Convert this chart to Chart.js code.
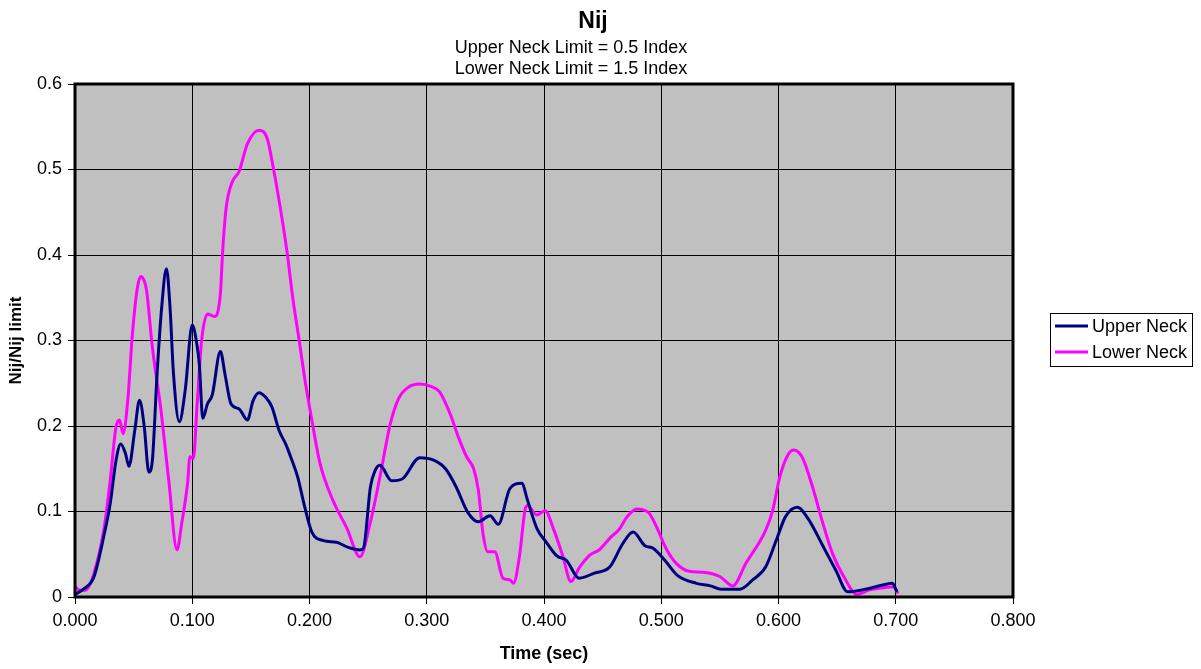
<!DOCTYPE html>
<html lang="en">
<head>
    <meta charset="UTF-8">
    <title>Nij</title>
    <script src="https://cdn.jsdelivr.net/npm/chart.js"></script>
    <style>
        html, body { margin: 0; padding: 0; background: #fff; }
        #wrap { width: 1201px; height: 669px; }
    </style>
</head>
<body>
    <div id="wrap"><canvas id="nijChart" width="1201" height="669"></canvas></div>

    <script>
        const chartTitle = 'Nij';
        const subTitles = ['Upper Neck Limit = 0.5 Index', 'Lower Neck Limit = 1.5 Index'];
        const seriesNames = ['Upper Neck', 'Lower Neck'];

        const upperTime = [0.000, 0.008, 0.016, 0.025, 0.030, 0.035, 0.039, 0.043, 0.046, 0.051, 0.055, 0.059, 0.063, 0.066,
            0.070, 0.074, 0.078, 0.081, 0.084, 0.089, 0.094, 0.100, 0.104, 0.106, 0.109, 0.113, 0.117, 0.124, 0.128, 0.133,
            0.140, 0.147, 0.152, 0.157, 0.163, 0.168, 0.174, 0.180, 0.185, 0.190, 0.196, 0.202, 0.212, 0.223, 0.233, 0.243,
            0.246, 0.252, 0.256, 0.260, 0.270, 0.279, 0.294, 0.306, 0.316, 0.325, 0.335, 0.344, 0.354, 0.361, 0.371, 0.381,
            0.386, 0.394, 0.402, 0.411, 0.419, 0.430, 0.443, 0.456, 0.467, 0.476, 0.486, 0.493, 0.503, 0.514, 0.530, 0.542,
            0.551, 0.567, 0.578, 0.589, 0.598, 0.606, 0.616, 0.626, 0.637, 0.649, 0.659, 0.674, 0.689, 0.697, 0.701];
        const upperNij = [0.003, 0.010, 0.023, 0.074, 0.109, 0.160, 0.179, 0.168, 0.153, 0.195, 0.230, 0.200, 0.146, 0.160,
            0.261, 0.340, 0.384, 0.340, 0.261, 0.205, 0.242, 0.318, 0.295, 0.273, 0.209, 0.226, 0.236, 0.287, 0.260, 0.226,
            0.220, 0.207, 0.230, 0.239, 0.233, 0.222, 0.195, 0.178, 0.160, 0.140, 0.105, 0.076, 0.066, 0.064, 0.058, 0.055,
            0.057, 0.129, 0.148, 0.154, 0.136, 0.138, 0.163, 0.160, 0.150, 0.129, 0.099, 0.088, 0.095, 0.085, 0.127, 0.133,
            0.113, 0.080, 0.064, 0.048, 0.043, 0.022, 0.028, 0.035, 0.062, 0.076, 0.060, 0.057, 0.043, 0.025, 0.016, 0.013,
            0.009, 0.009, 0.020, 0.035, 0.066, 0.094, 0.105, 0.090, 0.062, 0.031, 0.006, 0.009, 0.014, 0.016, 0.006];

        const lowerTime = [0.000, 0.004, 0.009, 0.016, 0.025, 0.030, 0.035, 0.038, 0.041, 0.045, 0.049, 0.053, 0.056, 0.059,
            0.061, 0.066, 0.073, 0.080, 0.087, 0.091, 0.096, 0.098, 0.101, 0.104, 0.108, 0.113, 0.119, 0.124, 0.126, 0.129,
            0.134, 0.140, 0.147, 0.157, 0.164, 0.169, 0.175, 0.181, 0.186, 0.191, 0.196, 0.202, 0.209, 0.220, 0.232, 0.243,
            0.252, 0.260, 0.269, 0.276, 0.284, 0.294, 0.304, 0.311, 0.320, 0.327, 0.334, 0.340, 0.344, 0.348, 0.352, 0.358,
            0.365, 0.371, 0.374, 0.379, 0.384, 0.386, 0.394, 0.401, 0.408, 0.416, 0.423, 0.430, 0.439, 0.447, 0.457, 0.464,
            0.471, 0.479, 0.489, 0.496, 0.504, 0.513, 0.524, 0.535, 0.550, 0.561, 0.572, 0.589, 0.595, 0.601, 0.608, 0.613,
            0.620, 0.629, 0.637, 0.646, 0.656, 0.667, 0.677, 0.691, 0.698, 0.702];
        const lowerNij = [0.012, 0.008, 0.008, 0.027, 0.082, 0.136, 0.199, 0.207, 0.191, 0.230, 0.308, 0.360, 0.375, 0.370,
            0.359, 0.292, 0.222, 0.136, 0.055, 0.086, 0.133, 0.164, 0.162, 0.222, 0.300, 0.331, 0.328, 0.355, 0.406, 0.456,
            0.485, 0.498, 0.530, 0.546, 0.536, 0.503, 0.456, 0.402, 0.347, 0.302, 0.255, 0.207, 0.156, 0.113, 0.080, 0.047,
            0.088, 0.140, 0.203, 0.232, 0.245, 0.249, 0.246, 0.240, 0.214, 0.187, 0.164, 0.150, 0.125, 0.074, 0.053, 0.053,
            0.022, 0.020, 0.016, 0.047, 0.103, 0.107, 0.096, 0.101, 0.080, 0.048, 0.018, 0.034, 0.049, 0.055, 0.070, 0.079,
            0.094, 0.103, 0.099, 0.082, 0.057, 0.039, 0.030, 0.029, 0.024, 0.013, 0.039, 0.078, 0.101, 0.140, 0.166, 0.172,
            0.164, 0.129, 0.090, 0.051, 0.023, 0.003, 0.008, 0.011, 0.012, 0.004];

        const toPoints = (xs, ys) => xs.map((x, i) => ({ x: x, y: ys[i] }));
        const FONT = '"Liberation Sans", Arial, sans-serif';

        // gray plot area, box round it, titles and the boxed legend
        const excelLook = {
            id: 'excelLook',
            beforeDraw(chart) {
                const { ctx, chartArea: a } = chart;
                ctx.save();
                ctx.fillStyle = '#c0c0c0';
                ctx.fillRect(a.left, a.top, a.right - a.left, a.bottom - a.top);
                ctx.restore();
            },
            afterDraw(chart) {
                const { ctx, chartArea: a } = chart;
                ctx.save();
                ctx.strokeStyle = '#000';
                ctx.lineWidth = 3;
                ctx.strokeRect(a.left, a.top, a.right - a.left, a.bottom - a.top);

                ctx.fillStyle = '#000';
                ctx.textAlign = 'center';
                ctx.textBaseline = 'alphabetic';
                ctx.font = 'bold 23px ' + FONT;
                ctx.fillText(chartTitle, 593, 28);
                ctx.font = '18px ' + FONT;
                ctx.fillText(subTitles[0], 571, 53);
                ctx.fillText(subTitles[1], 571, 74);

                // legend
                ctx.lineWidth = 1;
                ctx.strokeRect(1050.5, 313.5, 142, 53);
                ctx.textAlign = 'left';
                ctx.textBaseline = 'middle';
                chart.data.datasets.forEach((ds, i) => {
                    const y = 326 + i * 26;
                    ctx.strokeStyle = ds.borderColor;
                    ctx.lineWidth = 3;
                    ctx.beginPath();
                    ctx.moveTo(1055, y);
                    ctx.lineTo(1088, y);
                    ctx.stroke();
                    ctx.fillText(ds.label, 1092, y + 1);
                });
                ctx.restore();
            }
        };

        const config = {
            type: 'line',
            data: {
                datasets: [{
                    label: seriesNames[0],
                    data: toPoints(upperTime, upperNij),
                    borderColor: '#000080',
                    borderWidth: 3,
                    pointRadius: 0,
                    cubicInterpolationMode: 'monotone',
                    fill: false
                }, {
                    label: seriesNames[1],
                    data: toPoints(lowerTime, lowerNij),
                    borderColor: '#ff00ff',
                    borderWidth: 3,
                    pointRadius: 0,
                    cubicInterpolationMode: 'monotone',
                    fill: false
                }]
            },
            options: {
                responsive: false,
                animation: false,
                layout: { padding: { top: 84, right: 188, left: 0, bottom: 0 } },
                plugins: {
                    legend: { display: false },
                    title: { display: false },
                    tooltip: { enabled: false }
                },
                scales: {
                    x: {
                        type: 'linear',
                        min: 0,
                        max: 0.8,
                        afterFit: s => { s.height = 72; },
                        ticks: {
                            stepSize: 0.1,
                            color: '#000',
                            padding: 6,
                            maxRotation: 0,
                            font: { family: FONT, size: 18 },
                            callback: v => v.toFixed(3)
                        },
                        grid: { color: '#000', lineWidth: 1, tickLength: 7 },
                        border: { display: false },
                        title: {
                            display: true,
                            text: 'Time (sec)',
                            color: '#000',
                            font: { family: FONT, size: 18, weight: 'bold' },
                            padding: { top: 0, bottom: 4 }
                        }
                    },
                    y: {
                        min: 0,
                        max: 0.6,
                        afterFit: s => { s.width = 75; },
                        ticks: {
                            stepSize: 0.1,
                            color: '#000',
                            padding: 6,
                            font: { family: FONT, size: 18 },
                            callback: v => v === 0 ? '0' : v.toFixed(1)
                        },
                        grid: { color: '#000', lineWidth: 1, tickLength: 7 },
                        border: { display: false },
                        title: {
                            display: true,
                            text: 'Nij/Nij limit',
                            color: '#000',
                            font: { family: FONT, size: 17, weight: 'bold' },
                            padding: { top: 6, bottom: 0 }
                        }
                    }
                }
            },
            plugins: [excelLook]
        };

        const ctx = document.getElementById('nijChart').getContext('2d');
        new Chart(ctx, config);
    </script>
</body>
</html>
